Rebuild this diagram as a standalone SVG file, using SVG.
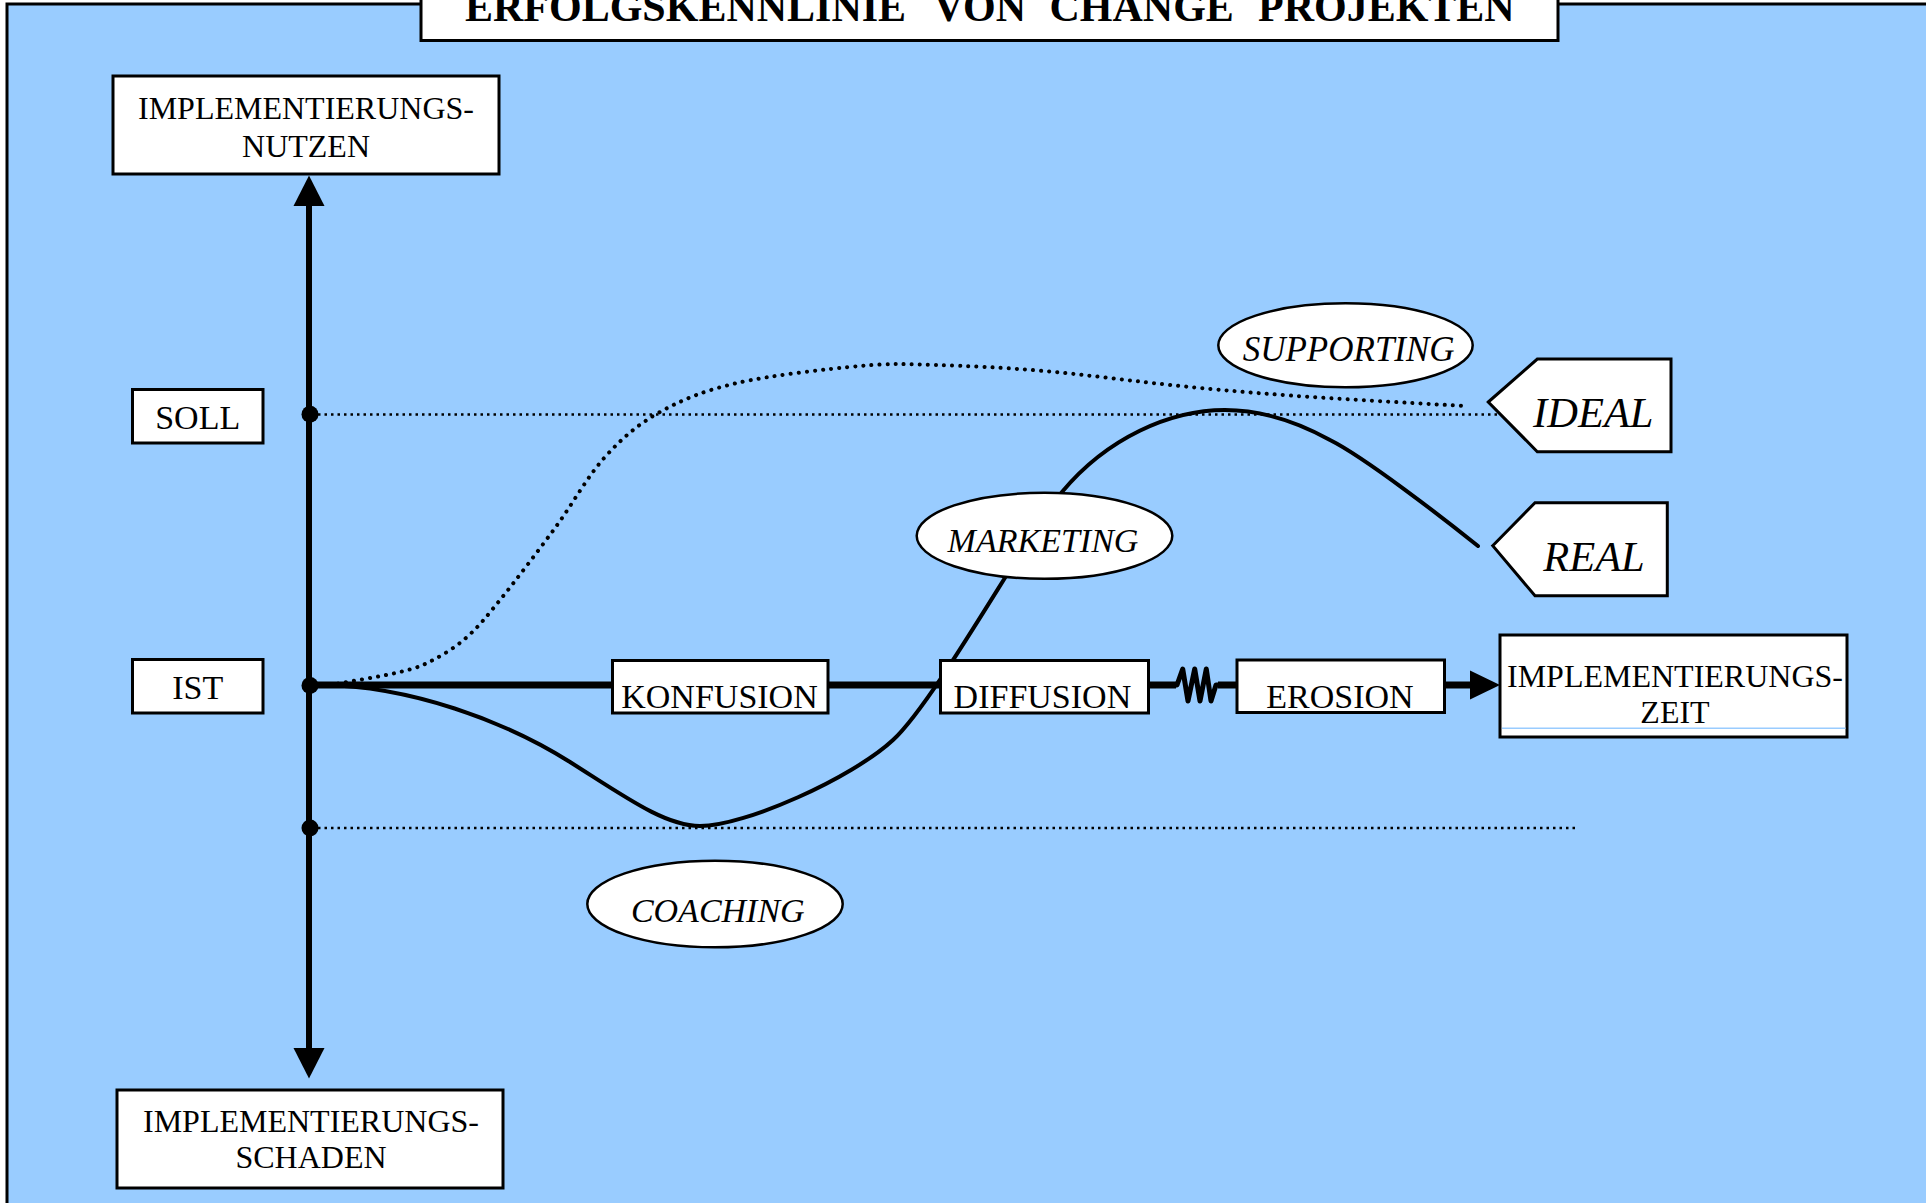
<svg xmlns="http://www.w3.org/2000/svg" width="1926" height="1203" viewBox="0 0 1926 1203">
<style>
.box{fill:#fff;stroke:#000;stroke-width:3}
.ell{fill:#fff;stroke:#000;stroke-width:2.5}
.t{font-family:"Liberation Serif","Times New Roman",serif;fill:#000;text-anchor:middle}
.r32{font-size:32px}
.r34{font-size:34px}
.it{font-style:italic}
.dotline{fill:none;stroke:#000;stroke-width:2.5;stroke-dasharray:2.5 4}
.dotcurve{fill:none;stroke:#000;stroke-width:4;stroke-dasharray:0.1 8;stroke-linecap:round}
.solid{fill:none;stroke:#000;stroke-width:4;stroke-linecap:round}
</style>
<rect x="0" y="0" width="1926" height="1203" fill="#fff"/>
<rect x="7" y="4" width="1940" height="1220" fill="#99CCFF" stroke="#000" stroke-width="3"/>

<g id="connectors">
  <line x1="309" y1="200" x2="309" y2="1052" stroke="#000" stroke-width="6"/>
  <polygon points="309,175.5 293.5,206 324.5,206" fill="#000"/>
  <polygon points="309,1078.5 293.5,1048 324.5,1048" fill="#000"/>
  <line x1="309" y1="685" x2="1176" y2="685" stroke="#000" stroke-width="7"/>
  <line x1="1218" y1="685" x2="1472" y2="685" stroke="#000" stroke-width="7"/>
  <polyline points="1174,685 1177,685 1182.7,669 1188,701 1194.7,669 1200,701 1206.3,669 1211,701 1216,685 1220,685" fill="none" stroke="#000" stroke-width="5" stroke-linejoin="round"/>
  <polygon points="1470,670.5 1500,685 1470,699.5" fill="#000"/>
  <line class="dotline" x1="318" y1="414.5" x2="1500" y2="414.5"/>
  <line class="dotline" x1="318" y1="828" x2="1576" y2="828"/>
  <path class="dotcurve" d="M330,685 C341.7,682.8 382.8,676.2 400,672 C417.2,667.8 421.8,665.8 433,660 C444.2,654.2 455.8,647 467,637 C478.2,627 485.3,618.2 500,600 C514.7,581.8 537.5,551.8 555,528 C572.5,504.2 587.5,476.3 605,457 C622.5,437.7 638,424.3 660,412 C682,399.7 703.7,390.7 737,383 C770.3,375.3 827,369 860,366 C893,363 904.3,364.2 935,365 C965.7,365.8 1003.2,367.5 1044,371 C1084.8,374.5 1139,381.9 1180,386 C1221,390.1 1251.3,392.7 1290,395.5 C1328.7,398.3 1382.5,401.3 1412,403 C1441.5,404.75 1457.8,405.5 1467,406"/>
  <path class="solid" d="M322,685 C410,686 505,721 570,762 C625,796.7 665,826 700,826 C745,826 852,778 893,740 C937,699 1027,534 1062,492 C1107,438 1170,410 1225,410 C1262,410 1295,420.75 1330,440 C1365,457.5 1443,518 1478,546"/>
  <circle cx="310" cy="414.3" r="8.5" fill="#000"/>
  <circle cx="310" cy="685.5" r="8.5" fill="#000"/>
  <circle cx="310" cy="828" r="8.5" fill="#000"/>
</g>

<g id="title">
  <rect class="box" x="421" y="-20" width="1137" height="60.5" stroke-width="2.5"/>
  <text class="t" style="font-weight:bold;font-size:42px;text-anchor:start" y="21"><tspan x="465">ERFOLGSKENNLINIE</tspan><tspan x="933.5">VON</tspan><tspan x="1049.5">CHANGE</tspan><tspan x="1258">PROJEKTEN</tspan></text>
</g>

<g id="nutzen">
  <rect class="box" x="113" y="76" width="386" height="98"/>
  <text class="t r32" x="306" y="119.3">IMPLEMENTIERUNGS-</text>
  <text class="t r32" x="306" y="156.7">NUTZEN</text>
</g>

<g id="schaden">
  <rect class="box" x="117" y="1090" width="386" height="98"/>
  <text class="t r32" x="311" y="1131.7">IMPLEMENTIERUNGS-</text>
  <text class="t r32" x="311" y="1168.3">SCHADEN</text>
</g>

<g id="soll">
  <rect class="box" x="132.5" y="389.5" width="130.5" height="53.5"/>
  <text class="t r34" x="197.7" y="429.3">SOLL</text>
</g>

<g id="ist">
  <rect class="box" x="132.5" y="659.5" width="130.5" height="53.5"/>
  <text class="t r34" x="197.7" y="699.3">IST</text>
</g>

<g id="konfusion">
  <rect class="box" x="612.5" y="660.5" width="215.5" height="52.5"/>
  <text class="t r34" x="719.5" y="707.7">KONFUSION</text>
</g>

<g id="diffusion">
  <rect class="box" x="940.5" y="660.5" width="208" height="52.5"/>
  <text class="t r34" x="1042.4" y="707.7">DIFFUSION</text>
</g>

<g id="erosion">
  <rect class="box" x="1237" y="660" width="207.5" height="52.5"/>
  <text class="t r34" x="1340" y="707.7">EROSION</text>
</g>

<g id="zeit">
  <rect class="box" x="1500" y="635" width="347" height="102"/>
  <line x1="1502" y1="728.3" x2="1845.5" y2="728.3" stroke="#99CCFF" stroke-width="1.5"/>
  <text class="t r32" x="1675" y="686.7">IMPLEMENTIERUNGS-</text>
  <text class="t r32" x="1675" y="723.3">ZEIT</text>
</g>

<g id="marketing">
  <ellipse class="ell" cx="1044.5" cy="535.8" rx="127.8" ry="43"/>
  <text class="t r34 it" x="1043" y="551.7">MARKETING</text>
</g>

<g id="coaching">
  <ellipse class="ell" cx="715" cy="904" rx="127.7" ry="43.3"/>
  <text class="t r34 it" x="717.8" y="921.7">COACHING</text>
</g>

<g id="supporting">
  <ellipse class="ell" cx="1345.5" cy="345.3" rx="127.2" ry="42"/>
  <text class="t it" style="font-size:35px" x="1348.7" y="361">SUPPORTING</text>
</g>

<g id="ideal">
  <polygon class="box" points="1488.3,402 1537.3,359 1671,359 1671,451.7 1537.3,451.7"/>
  <text class="t it" style="font-size:42.5px" x="1593.3" y="426.7">IDEAL</text>
</g>

<g id="real">
  <polygon class="box" points="1492.7,545.7 1535,502.7 1667.3,502.7 1667.3,595.7 1535,595.7"/>
  <text class="t it" style="font-size:42.5px" x="1594" y="570.7">REAL</text>
</g>
</svg>
